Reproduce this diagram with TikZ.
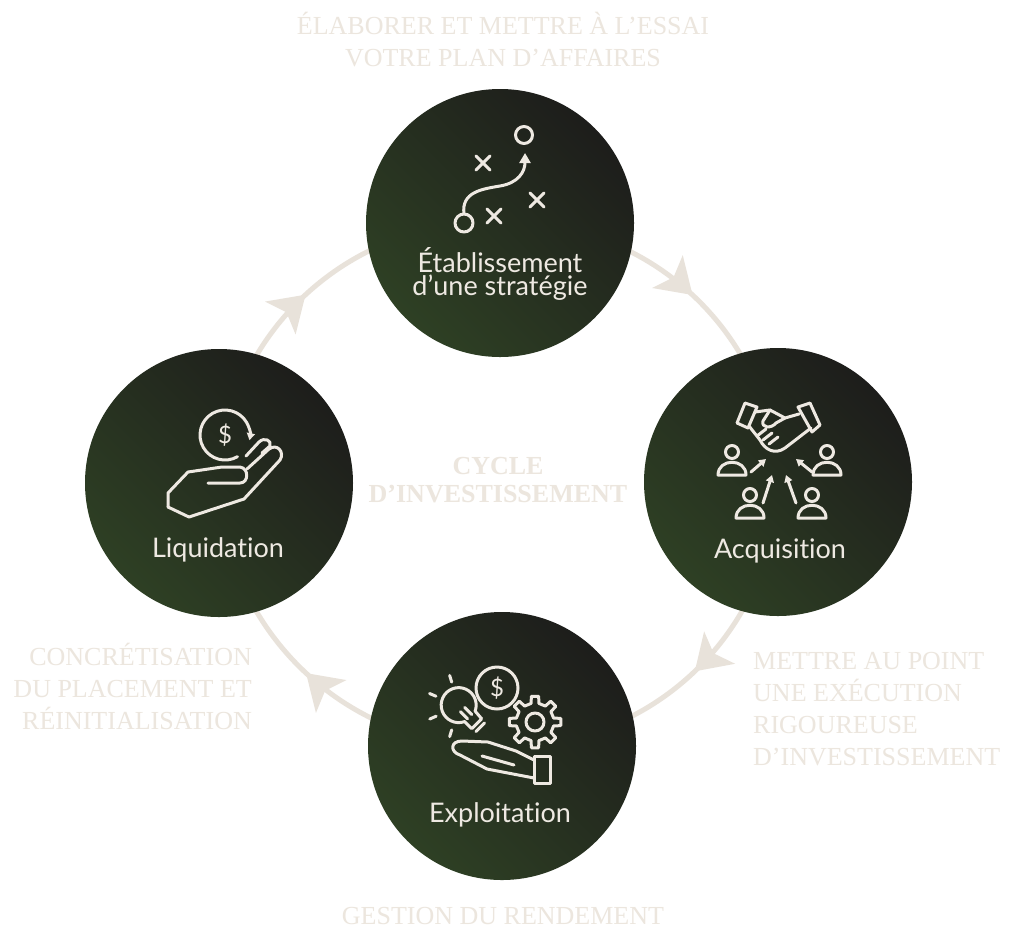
\documentclass[tikz,border=0pt]{standalone}
\usepackage{fontspec}
\setmainfont{Liberation Serif}
\newfontfamily\stagefont[Ligatures=NoCommon]{Lato}
\usetikzlibrary{arrows.meta,decorations.markings,backgrounds}
\definecolor{stagegreen}{RGB}{46,64,36}
\definecolor{stagedark}{RGB}{29,29,27}
\definecolor{arccol}{RGB}{232,226,218}
\definecolor{phasecol}{RGB}{236,230,222}
\definecolor{iconcol}{RGB}{238,233,226}
\begin{document}
\begin{tikzpicture}[x=1pt, y=-1pt,
stage/.style={circle, minimum size=268pt, inner sep=0pt, left color=stagedark, right color=stagegreen, shading angle=-45},
stagelabel/.style={text=iconcol, inner sep=0pt, align=center, font=\stagefont\fontsize{27}{23}\selectfont},
phase/.style={text=phasecol, inner sep=0pt, font=\fontsize{26}{32}\selectfont},
cyclearrow/.style={color=arccol, line width=5pt, postaction={decorate},
  decoration={markings, mark=at position 0.5 with {\arrow{Stealth[length=34pt, width=44pt, inset=8pt]}}}},
icon/.style={draw=iconcol, line width=3pt, line cap=round, line join=round},
icontip/.style={-{Triangle[length=7pt, width=8pt]}},
icontext/.style={text=iconcol, inner sep=0pt, font=\stagefont\fontsize{24}{24}\selectfont}]
\useasboundingbox (0,0) rectangle (1024,938);

% the four stages
\node[stage] (strat) at (500,223) {};
\node[stage] (acq) at (778,482) {};
\node[stage] (expl) at (502,746) {};
\node[stage] (liq) at (219,483) {};

% the cycle, behind the stages
\begin{pgfonlayer}{background}
\fill[white] (0,0) rectangle (1024,938);
\draw[cyclearrow] (strat.center) to[bend left=45] (acq.center);
\draw[cyclearrow] (acq.center) to[bend left=45] (expl.center);
\draw[cyclearrow] (expl.center) to[bend left=45] (liq.center);
\draw[cyclearrow] (liq.center) to[bend left=45] (strat.center);
\end{pgfonlayer}

% stage names (base = last line)
\node[stagelabel, anchor=base] (strattxt) at (500,295) {Établissement\\d’une stratégie};
\node[stagelabel, anchor=base] (acqtxt) at (780,558) {Acquisition};
\node[stagelabel, anchor=base] (expltxt) at (500,822) {Exploitation};
\node[stagelabel, anchor=base] (liqtxt) at (218,557) {Liquidation};

% phases
\node[phase, align=center, anchor=base] (plan) at (503,66) {ÉLABORER ET METTRE À L’ESSAI\\VOTRE PLAN D’AFFAIRES};
\node[phase, align=left, anchor=base west] (exec) at (753,765) {METTRE AU POINT\\UNE EXÉCUTION\\RIGOUREUSE\\D’INVESTISSEMENT};
\node[phase, anchor=base] (rend) at (503,924) {GESTION DU RENDEMENT};
\node[phase, align=right, anchor=base east] (real) at (252,729) {CONCRÉTISATION\\DU PLACEMENT ET\\RÉINITIALISATION};
\node[phase, align=center, anchor=base, font=\bfseries\fontsize{26}{28}\selectfont] (cycle) at (498,502) {CYCLE\\D’INVESTISSEMENT};

% icon: strategy
\draw[icon] (524,135) circle[radius=8.5];
\draw[icon] (464,223) circle[radius=9];
\foreach \cx/\cy in {483/163, 537/200, 494/216}
  \draw[icon] (\cx-7,\cy-7) -- (\cx+7,\cy+7) (\cx-7,\cy+7) -- (\cx+7,\cy-7);
\draw[icon, -{Triangle[length=10pt, width=11pt]}] (464,214) .. controls (461,192) and (482,189) .. (500,186) .. controls (518,183) and (525,172) .. (525,153);

% icon: acquisition
\foreach \hx/\hy in {732/452, 827/452, 750/495, 812/495} {
  \draw[icon] (\hx,\hy) circle[radius=6.5];
  \draw[icon] (\hx-14,\hy+23) .. controls (\hx-14,\hy+6) and (\hx+14,\hy+6) .. (\hx+14,\hy+23) -- cycle;
}
\draw[icon, icontip] (751,472) -- (766,459);
\draw[icon, icontip] (812,472) -- (796,459);
\draw[icon, icontip] (763,503) -- (772,475);
\draw[icon, icontip] (796,503) -- (786,475);
\draw[icon] (737,423) -- (745,403) -- (757,407) -- (748,428) -- cycle;
\draw[icon] (798,407) -- (810,403) -- (820,425) -- (812,432) -- cycle;
\draw[icon] (755,412) -- (770,410) -- (785,418) -- (799,414);
\draw[icon] (749,426) -- (760,440) .. controls (765,450) and (775,455) .. (785,448) -- (811,428);
\draw[icon] (770,410) -- (763,421) .. controls (761,428) and (771,429) .. (776,423) -- (785,418);
\foreach \i in {0,1,2}
  \draw[icon] (757+6*\i,436+4*\i) -- (766+6*\i,429+4*\i);

% icon: exploitation
\draw[icon] (497,688) circle[radius=21];
\node[icontext] (expldollar) at (497,688) {\$};
\begin{scope}[shift={(459,706)}, rotate=45]
  \draw[icon] (-7,15) arc[start angle=115, end angle=425, radius=17.5] -- (7,25) -- (-7,25) -- cycle;
  \draw[icon] (-6,30) -- (6,30);
  \draw[icon] (-3,15) -- (-3,5) (3,15) -- (3,5);
\end{scope}
\foreach \a in {203,156,253,107}
  \draw[icon] ([shift={(459,706)}]\a:25) -- ([shift={(459,706)}]\a:32);
\begin{scope}[shift={(535,722)}]
  \draw[icon] (-12:19) \foreach \a in {0,45,...,315} { -- (\a-12:19) -- (\a-8:26) -- (\a+8:26) -- (\a+12:19) } -- cycle;
  \draw[icon] (0,0) circle[radius=9];
\end{scope}
\draw[icon] (534,756) rectangle (550,783);
\draw[icon] (534,760) -- (516,751) -- (488,742) -- (462,741) .. controls (450,741) and (450,752) .. (460,755) -- (487,769) -- (534,778);
\draw[icon] (482,756) -- (514,765);

% icon: liquidation
\draw[icon, icontip] ([shift={(225,435)}]60:25) arc[start angle=60, end angle=372, radius=25];
\node[icontext] (liqdollar) at (225,435) {\$};
\draw[icon] (168,507) -- (168,493) -- (188,472) -- (222,467) -- (240,467) .. controls (249,468) and (249,483) .. (240,483) -- (208,483);
\draw[icon] (168,507) -- (189,517) -- (244,499) -- (280,460) .. controls (285,452) and (277,443) .. (269,449) -- (247,469);
\draw[icon] (262,453) -- (270,446) .. controls (272,440) and (264,437) .. (259,442) -- (246,456);
\end{tikzpicture}
\end{document}
